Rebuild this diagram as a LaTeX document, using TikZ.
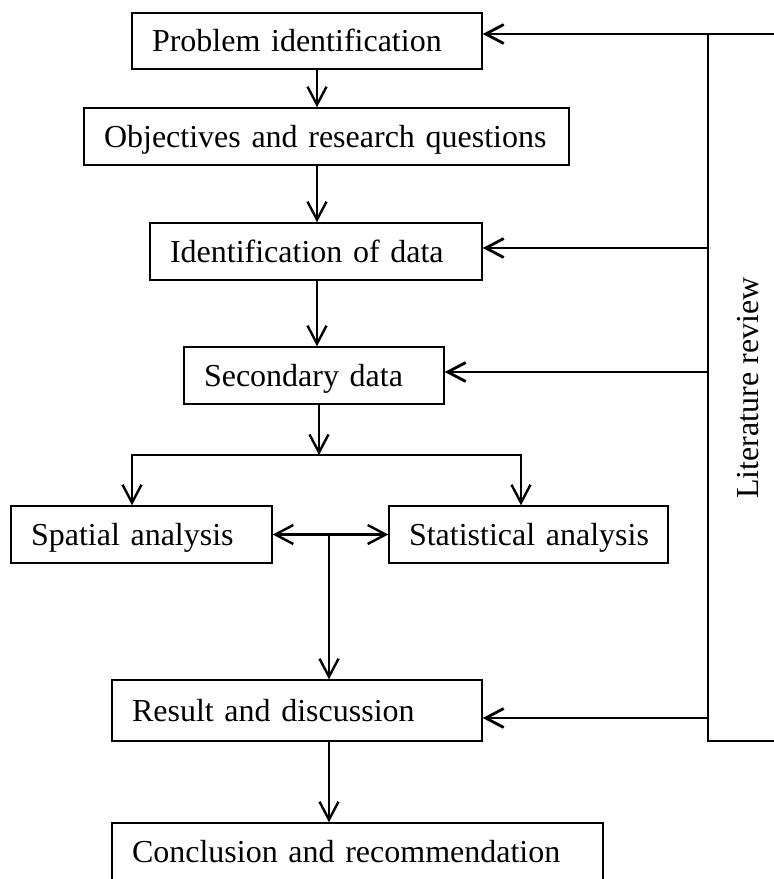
\documentclass[tikz,border=0pt]{standalone}
\usepackage{fontspec}
\setmainfont{Liberation Serif}
\usetikzlibrary{arrows.meta}
\tikzset{barb/.tip={Straight Barb[length=18pt,width=19pt]}}
\begin{document}
\begin{tikzpicture}[x=1pt,y=-1pt,
  stepbox/.style={draw, line width=1.5pt, rectangle, inner xsep=20pt, inner ysep=0pt,
    align=left, text height=21pt, text depth=0pt, font=\fontsize{32}{38}\selectfont},
  conn/.style={line width=2.4pt, -barb},
  feed/.style={line width=2.8pt, -barb},
  litline/.style={line width=1.4pt}]
\useasboundingbox (0,0) rectangle (774,879);
% boxes
\node[stepbox, text width=310pt, minimum height=56pt] (prob) at (307,41) {\mbox{Problem identification}};
\node[stepbox, text width=445pt, minimum height=57pt] (obj) at (326.5,136.5) {\mbox{Objectives and research questions}};
\node[stepbox, text width=292pt, minimum height=57pt] (ident) at (316,251.5) {\mbox{Identification of data}};
\node[stepbox, text width=220pt, minimum height=57pt] (sec) at (314,375.5) {\mbox{Secondary data}};
\node[stepbox, text width=221pt, minimum height=57pt] (spat) at (141.5,534.5) {\mbox{Spatial analysis}};
\node[stepbox, text width=239pt, minimum height=57pt] (stat) at (528.5,534.5) {\mbox{Statistical analysis}};
\node[stepbox, text width=330pt, minimum height=61pt] (res) at (297,710.5) {\mbox{Result and discussion}};
\node[stepbox, text width=451pt, minimum height=58pt] (conc) at (357.5,852) {\mbox{Conclusion and recommendation}};
% literature review box (runs off the right edge)
\draw[litline] (780,34) -- (708,34) -- (708,741) -- (780,741);
\node[rotate=90, anchor=base, font=\fontsize{32}{38}\selectfont] (lit) at (758,388) {Literature review};
% feedback arrows from literature review
\coordinate (c1) at (708,34);
\coordinate (c2) at (708,248);
\coordinate (c3) at (708,372);
\coordinate (c4) at (708,718);
\draw[feed] (c1) -- (c1 -| prob.east);
\draw[feed] (c2) -- (c2 -| ident.east);
\draw[feed] (c3) -- (c3 -| sec.east);
\draw[feed] (c4) -- (c4 -| res.east);
% main flow
\coordinate (a1) at (317,0);
\draw[conn] (a1 |- prob.south) -- (a1 |- obj.north);
\draw[conn] (a1 |- obj.south) -- (a1 |- ident.north);
\draw[conn] (a1 |- ident.south) -- (a1 |- sec.north);
\coordinate (b) at (319,455);
\coordinate (bl) at (132,455);
\coordinate (br) at (521,455);
\draw[conn] (b |- sec.south) -- (b);
\draw[line width=2.4pt, line cap=rect] (bl) -- (br);
\draw[conn] (bl) -- (bl |- spat.north);
\draw[conn] (br) -- (br |- stat.north);
\draw[line width=2.4pt, barb-barb] (spat.east) -- (stat.west);
\coordinate (m) at (329,534.5);
\draw[conn] (m) -- (m |- res.north);
\draw[conn] (m |- res.south) -- (m |- conc.north);
\end{tikzpicture}
\end{document}
